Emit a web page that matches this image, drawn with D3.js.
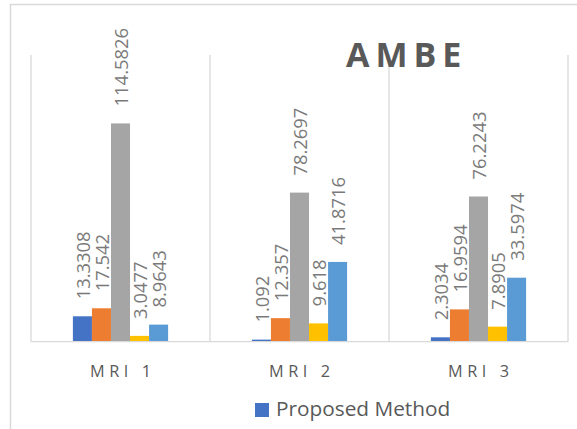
<!DOCTYPE html>
<html>
<head>
<meta charset="utf-8">
<script src="https://cdn.jsdelivr.net/npm/d3@7"></script>
<style>
  html, body { margin: 0; padding: 0; background: #fff; }
  svg { display: block; }
</style>
</head>
<body>
<div id="chart"></div>
<script>
// ---- data ----
const categories = ["MRI 1", "MRI 2", "MRI 3"];
const seriesNames = ["Proposed Method", "Series 2", "Series 3", "Series 4", "Series 5"];
const seriesColors = ["#4472C4", "#ED7D31", "#A5A5A5", "#FFC000", "#5B9BD5"];
const series1 = [13.3308, 1.092, 2.3034];
const series2 = [17.542, 12.357, 16.9594];
const series3 = [114.5826, 78.2697, 76.2243];
const series4 = [3.0477, 9.618, 7.8905];
const series5 = [8.9643, 41.8716, 33.5974];
const seriesValues = [series1, series2, series3, series4, series5];
const legendShown = ["Proposed Method"];
const titleText = "AMBE";

// ---- layout ----
const W = 577, H = 429;
const plotLeft = 31, plotRight = 568, plotTop = 55, baseline = 341.7;
const yMax = 140, yTopPx = baseline - 140 * 1.905;

const svg = d3.select("#chart").append("svg")
  .attr("width", W).attr("height", H);

svg.append("rect").attr("width", W).attr("height", H).attr("fill", "#fff");

// outer chart frame (clipped by window on right/bottom)
svg.append("path")
  .attr("d", `M10.5,${H} L10.5,4.5 L${W},4.5`)
  .attr("fill", "none").attr("stroke", "#d9d9d9").attr("stroke-width", 1.5);

const x0 = d3.scaleBand().domain(categories).range([plotLeft, plotRight]).paddingInner(0).paddingOuter(0);
const groupW = x0.bandwidth() * 0.532;
const x1 = d3.scaleBand().domain(d3.range(seriesValues.length))
  .range([(x0.bandwidth() - groupW) / 2, (x0.bandwidth() + groupW) / 2]).padding(0);
const y = d3.scaleLinear().domain([0, yMax]).range([baseline, yTopPx]);

// vertical category gridlines
const edges = categories.map(c => x0(c)).concat([x0(categories[categories.length - 1]) + x0.bandwidth()]);
svg.append("g").selectAll("line").data(edges).join("line")
  .attr("x1", d => d).attr("x2", d => d)
  .attr("y1", plotTop).attr("y2", baseline)
  .attr("stroke", "#d9d9d9").attr("stroke-width", 1.3);

// bars
const rows = [];
categories.forEach((c, ci) => {
  seriesValues.forEach((vals, si) => rows.push({ c, si, v: vals[ci] }));
});

svg.append("g").selectAll("rect").data(rows).join("rect")
  .attr("x", d => x0(d.c) + x1(d.si))
  .attr("width", x1.bandwidth())
  .attr("y", d => y(d.v))
  .attr("height", d => baseline - y(d.v))
  .attr("fill", d => seriesColors[d.si]);

// baseline axis
svg.append("line")
  .attr("x1", plotLeft).attr("x2", plotRight)
  .attr("y1", baseline).attr("y2", baseline)
  .attr("stroke", "#d9d9d9").attr("stroke-width", 1.3);

// data labels (rotated)
svg.append("g").selectAll("text").data(rows).join("text")
  .attr("transform", d => `translate(${x0(d.c) + x1(d.si) + x1.bandwidth() / 2},${y(d.v) - 17}) rotate(-90)`)
  .attr("dy", "0.42em")
  .attr("font-family", "'Open Sans', sans-serif")
  .attr("font-size", 18.4)
  .attr("fill", "#7a7a7a")
  .text(d => String(d.v));

// category labels
const catSpacing = 4.6;
svg.append("g").selectAll("text").data(categories).join("text")
  .attr("x", d => x0(d) + x0.bandwidth() / 2 + catSpacing / 2)
  .attr("y", 376.7)
  .attr("text-anchor", "middle")
  .attr("font-family", "'Open Sans', sans-serif")
  .attr("font-size", 16.3)
  .attr("letter-spacing", catSpacing)
  .attr("fill", "#595959")
  .text(d => d);

// title
svg.append("text")
  .attr("x", 346).attr("y", 66.7)
  .attr("font-family", "'Open Sans', sans-serif")
  .attr("font-weight", "bold")
  .attr("font-size", 34)
  .attr("letter-spacing", 6)
  .attr("fill", "#595959")
  .text(titleText);

// legend (only first entry visible)
const lg = svg.append("g");
legendShown.forEach((name, i) => {
  const si = seriesNames.indexOf(name);
  lg.append("rect").attr("x", 255).attr("y", 403).attr("width", 14).attr("height", 14)
    .attr("fill", seriesColors[si]);
  lg.append("text").attr("x", 276).attr("y", 416)
    .attr("font-family", "'Open Sans', sans-serif")
    .attr("font-size", 20.8)
    .attr("fill", "#595959")
    .text(name);
});
</script>
</body>
</html>
